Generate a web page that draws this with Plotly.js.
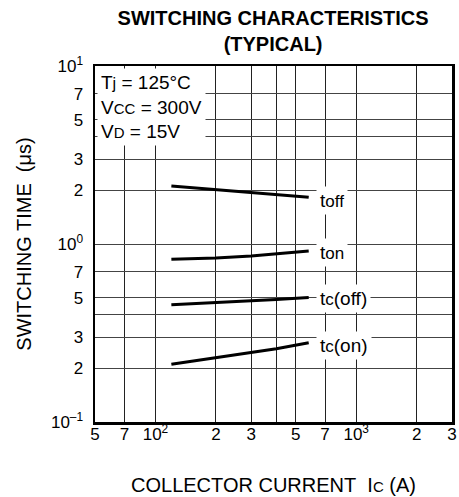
<!DOCTYPE html>
<html>
<head>
<meta charset="utf-8">
<script src="https://cdn.plot.ly/plotly-3.0.1.min.js"></script>
<style>body{margin:0;padding:0;background:#fff;}#chart{width:459px;height:497px;}</style>
</head>
<body>
<div id="chart"></div>
<script>
// Collector current (A)
const currentX = [120, 200, 300, 400, 580];
// Switching times (us)
const tOff  = [2.12, 2.02, 1.94, 1.89, 1.83];
const tOn   = [0.82, 0.835, 0.857, 0.88, 0.914];
const tcOff = [0.455, 0.467, 0.478, 0.487, 0.50];
const tcOn  = [0.211, 0.230, 0.246, 0.258, 0.279];

const seriesNames = ['t<span style="font-size:17px">off</span>', 't<span style="font-size:17px">on</span>',
                     't<span style="font-size:17px">c</span>(off)', 't<span style="font-size:17px">c</span>(on)'];
const seriesData = [tOff, tOn, tcOff, tcOn];
const labelYShift = [-3, -2, -1, -3];

const xTickVals = [50, 70, 100, 200, 300, 400, 500, 700, 1000, 2000, 3000];
const xTickText = ['5', '7', '10<sup>2</sup>', '2', '3', '', '5', '7', '10<sup>3</sup>', '2', '3'];
const yTickVals = [0.1, 0.2, 0.3, 0.4, 0.5, 0.7, 1, 2, 3, 4, 5, 7, 10];
const yTickText = ['10<sup>–1</sup>', '2', '3', '', '5', '7', '10<sup>0</sup>', '2', '3', '', '5', '7', '10<sup>1</sup>'];

const FONT = 'Liberation Sans, Arial, Helvetica, sans-serif';

const traces = seriesData.map((ys, i) => ({
  x: currentX, y: ys, type: 'scatter', mode: 'lines',
  line: {color: '#000', width: 3}, hoverinfo: 'skip', showlegend: false
}));

const annotations = seriesData.map((ys, i) => ({
  x: Math.log10(currentX[currentX.length - 1]), y: Math.log10(ys[ys.length - 1]),
  xref: 'x', yref: 'y', xanchor: 'left', yanchor: 'middle',
  xshift: 7, yshift: labelYShift[i],
  text: seriesNames[i], showarrow: false, bgcolor: '#fff', borderpad: 3,
  font: {family: FONT, size: 19, color: '#000'}
}));

annotations.push({
  xref: 'paper', yref: 'paper', x: 0, y: 1, xanchor: 'left', yanchor: 'top',
  xshift: 2, yshift: -2, align: 'left', showarrow: false, bgcolor: '#fff', borderpad: 3,
  text: 'T<span style="font-size:16px">j</span> = 125°C<br>V<span style="font-size:15px">CC</span> = 300V<br>V<span style="font-size:15px">D</span> = 15V',
  font: {family: FONT, size: 19, color: '#000'}
});

const layout = {
  width: 459, height: 497,
  margin: {l: 95, r: 7, t: 66, b: 75},
  paper_bgcolor: '#fff', plot_bgcolor: '#fff',
  font: {family: FONT, color: '#000'},
  title: {
    text: '<b>SWITCHING CHARACTERISTICS<br>(TYPICAL)</b>',
    font: {family: FONT, size: 20, color: '#000'},
    x: 0.595, xanchor: 'center', y: 0.95, yanchor: 'top', yref: 'container'
  },
  xaxis: {
    type: 'log', range: [Math.log10(49.98), Math.log10(3001)],
    tickmode: 'array', tickvals: xTickVals, ticktext: xTickText,
    tickfont: {family: FONT, size: 17, color: '#000'},
    showgrid: true, gridcolor: '#222', gridwidth: 1,
    showline: true, linecolor: '#000', linewidth: 2.5, mirror: true,
    ticks: '', zeroline: false, ticklabelstandoff: -5,
    title: {text: 'COLLECTOR CURRENT\u00a0\u00a0I<span style="font-size:15px">C</span> (A)',
            font: {family: FONT, size: 20, color: '#000'}, standoff: 35}
  },
  yaxis: {
    type: 'log', range: [-1.0002, 1.0002],
    tickmode: 'array', tickvals: yTickVals, ticktext: yTickText,
    tickfont: {family: FONT, size: 17, color: '#000'},
    showgrid: true, gridcolor: '#444', gridwidth: 1,
    showline: true, linecolor: '#000', linewidth: 2.5, mirror: true,
    ticks: '', zeroline: false, ticklabelstandoff: 6,
    title: {text: 'SWITCHING TIME\u00a0\u00a0(μs)',
            font: {family: FONT, size: 20, color: '#000'}, standoff: 14}
  },
  annotations: annotations
};

Plotly.newPlot('chart', traces, layout, {staticPlot: true, displayModeBar: false});
</script>
</body>
</html>
